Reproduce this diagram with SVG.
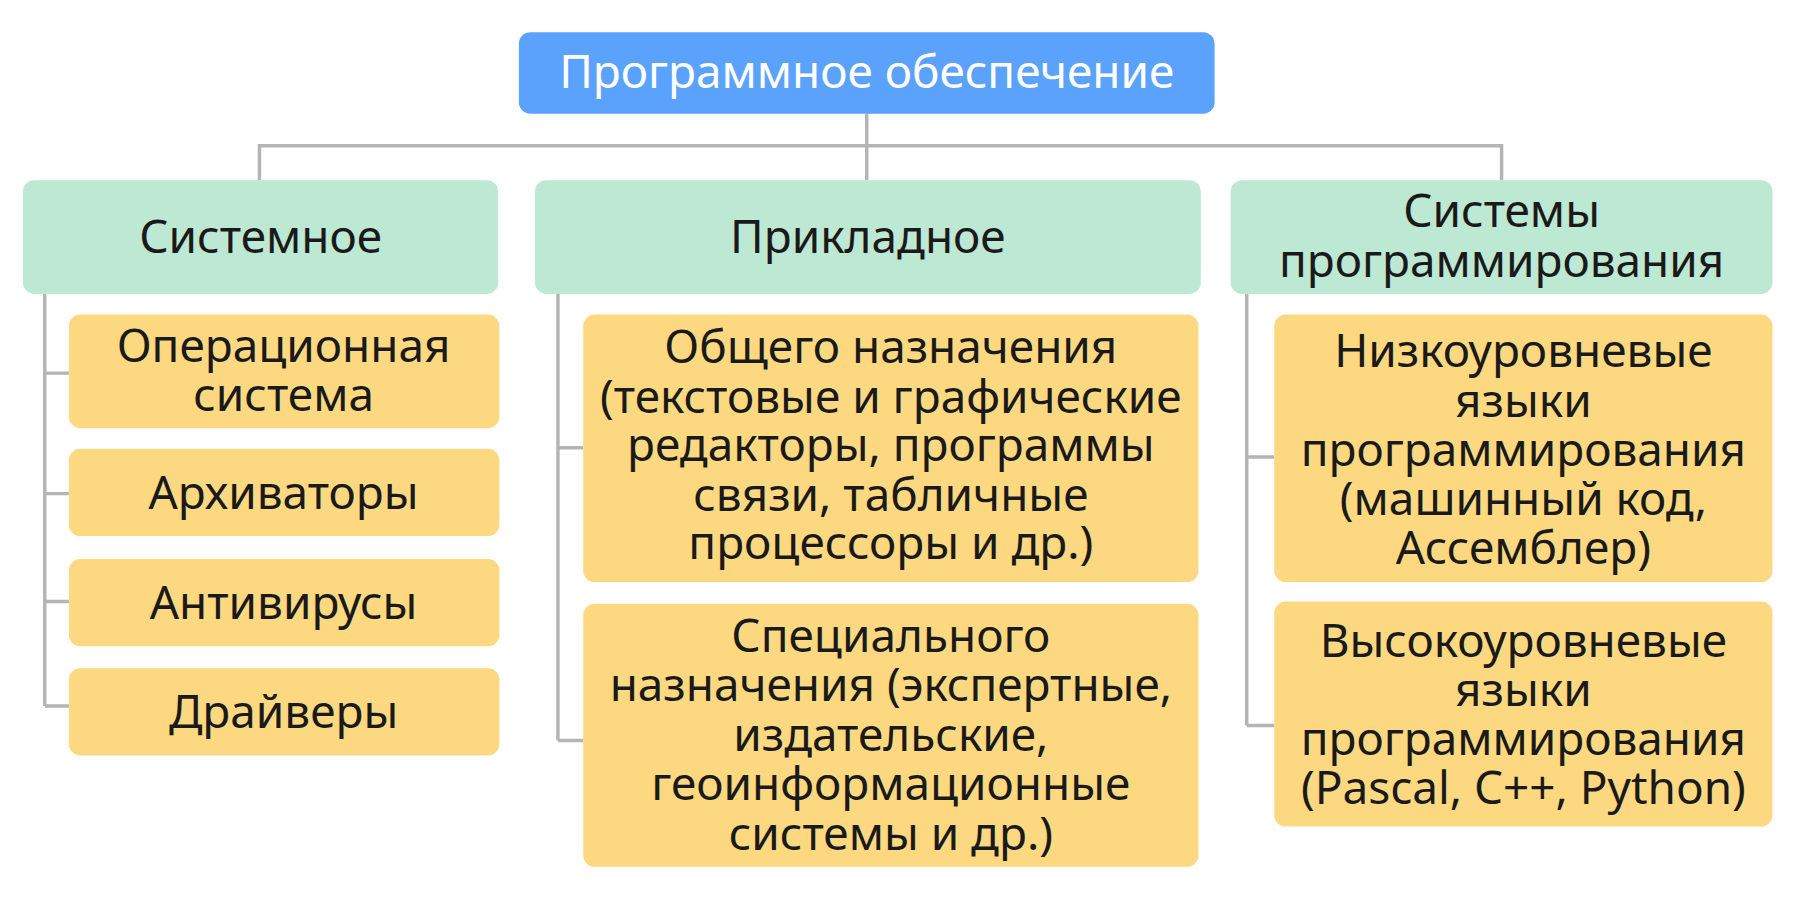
<svg xmlns="http://www.w3.org/2000/svg" width="1800" height="900" viewBox="0 0 1800 900">
<style>
text{font-family:"Noto Sans","Liberation Sans",sans-serif;font-size:40px;fill:#1a1a1a;text-anchor:middle}
.g{fill:#bde8d3}.y{fill:#fcd980}
.c{stroke:#b4b4b4;stroke-width:3;fill:none}
</style>
<rect width="1800" height="900" fill="#fff"/>
<g transform="scale(1.148)">
<g id="connectors" class="c">
<path d="M755 99V157M226 157V127H1308V157"/>
<path d="M39 256V615M39 325H60M39 430H60M39 524H60M39 615H60"/>
<path d="M486 256V645M486 390H508M486 645H508"/>
<path d="M1086 256V632M1086 398H1110M1086 632H1110"/>
</g>
<g id="root"><rect x="452" y="28" width="606" height="71" rx="10" fill="#5aa2fc"/><text x="755" y="77" style="fill:#fff">Программное обеспечение</text></g>
<g id="sys"><rect class="g" x="20" y="157" width="414" height="99" rx="10"/><text x="227" y="220">Системное</text></g>
<g id="app"><rect class="g" x="466" y="157" width="580" height="99" rx="10"/><text x="756" y="220">Прикладное</text></g>
<g id="prog"><rect class="g" x="1072" y="157" width="472" height="99" rx="10"/><text x="1308" y="198">Системы</text><text x="1308" y="241">программирования</text></g>
<g id="os"><rect class="y" x="60" y="274" width="375" height="99" rx="10"/><text x="247" y="315">Операционная</text><text x="247" y="358">система</text></g>
<g id="arch"><rect class="y" x="60" y="391" width="375" height="76" rx="10"/><text x="247" y="443">Архиваторы</text></g>
<g id="av"><rect class="y" x="60" y="487" width="375" height="76" rx="10"/><text x="247" y="539">Антивирусы</text></g>
<g id="drv"><rect class="y" x="60" y="582" width="375" height="76" rx="10"/><text x="247" y="634">Драйверы</text></g>
<g id="gen"><rect class="y" x="508" y="274" width="536" height="233" rx="10"/><text x="776" y="316">Общего назначения</text><text x="776" y="360">(текстовые и графические</text><text x="776" y="402">редакторы, программы</text><text x="776" y="445">связи, табличные</text><text x="776" y="487">процессоры и др.)</text></g>
<g id="spec"><rect class="y" x="508" y="526" width="536" height="229" rx="10"/><text x="776" y="568">Специального</text><text x="776" y="611">назначения (экспертные,</text><text x="776" y="654">издательские,</text><text x="776" y="697">геоинформационные</text><text x="776" y="740">системы и др.)</text></g>
<g id="low"><rect class="y" x="1110" y="274" width="434" height="233" rx="10"/><text x="1327" y="320">Низкоуровневые</text><text x="1327" y="363">языки</text><text x="1327" y="406">программирования</text><text x="1327" y="449">(машинный код,</text><text x="1327" y="491">Ассемблер)</text></g>
<g id="high"><rect class="y" x="1110" y="524" width="434" height="196" rx="10"/><text x="1327" y="572">Высокоуровневые</text><text x="1327" y="615">языки</text><text x="1327" y="658">программирования</text><text x="1327" y="700">(Pascal, C++, Python)</text></g>
</g>
</svg>
